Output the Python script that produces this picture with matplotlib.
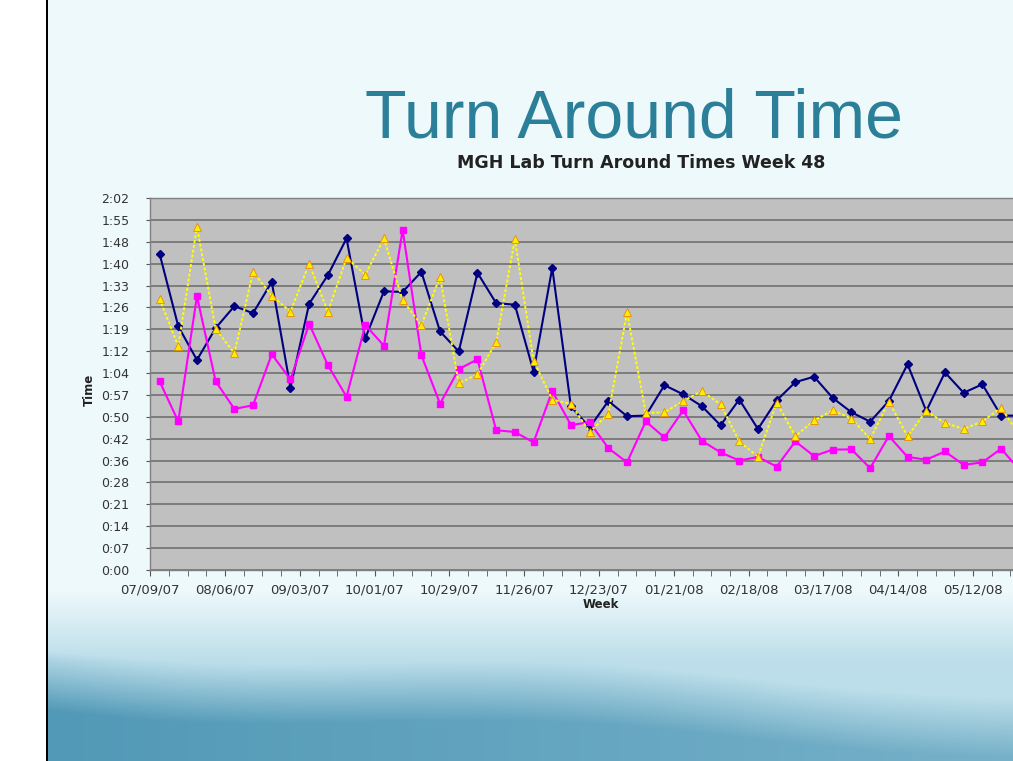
import numpy as np
import matplotlib
matplotlib.use("Agg")
import matplotlib.pyplot as plt

# weekly turnaround times in minutes
weeks = ["07/09/07", "07/16/07", "07/23/07", "07/30/07", "08/06/07", "08/13/07", "08/20/07", "08/27/07",
         "09/03/07", "09/10/07", "09/17/07", "09/24/07", "10/01/07", "10/08/07", "10/15/07", "10/22/07",
         "10/29/07", "11/05/07", "11/12/07", "11/19/07", "11/26/07", "12/03/07", "12/10/07", "12/17/07",
         "12/23/07", "12/31/07", "01/07/08", "01/14/08", "01/21/08", "01/28/08", "02/04/08", "02/11/08",
         "02/18/08", "02/25/08", "03/03/08", "03/10/08", "03/17/08", "03/24/08", "03/31/08", "04/07/08",
         "04/14/08", "04/21/08", "04/28/08", "05/05/08", "05/12/08", "05/19/08", "05/26/08"]

series_navy = [104.1, 80.2, 69.1, 79.6, 86.8, 84.5, 94.8, 60.0, 87.6, 97.0, 109.1, 76.2,
               91.7, 91.5, 98.1, 78.5, 71.9, 97.8, 87.8, 87.3, 65.3, 99.4, 53.8, 46.9,
               55.6, 50.6, 50.8, 60.8, 57.8, 53.9, 47.6, 56.1, 46.4, 55.8, 61.8, 63.6,
               56.6, 51.9, 48.8, 55.6, 67.7, 52.3, 65.0, 58.3, 61.1, 50.8, 50.8]
series_pink = [62.1, 48.9, 90.1, 62.1, 53.0, 54.2, 71.0, 62.7, 81.0, 67.4, 57.0, 80.6,
               73.8, 111.9, 70.7, 54.7, 66.1, 69.3, 46.0, 45.4, 42.0, 58.9, 47.7, 48.6,
               40.1, 35.4, 48.9, 43.6, 52.5, 42.5, 38.7, 36.0, 37.2, 34.0, 42.3, 37.5,
               39.6, 39.7, 33.5, 44.1, 37.2, 36.3, 39.0, 34.6, 35.4, 39.9, 32.9]
series_yellow = [89.2, 73.6, 113.0, 79.3, 71.3, 98.1, 90.3, 85.0, 100.8, 85.0, 102.7, 97.2,
                 109.1, 88.7, 80.6, 96.4, 61.4, 64.4, 74.9, 108.9, 68.8, 56.1, 54.6, 45.4,
                 51.4, 84.8, 51.7, 51.9, 55.6, 58.9, 54.5, 42.3, 37.3, 55.1, 44.0, 49.2,
                 52.6, 49.8, 43.1, 55.4, 44.0, 52.3, 48.4, 46.4, 48.9, 53.4, 44.2]

ytick_labels = ["0:00", "0:07", "0:14", "0:21", "0:28", "0:36", "0:42", "0:50", "0:57",
                "1:04", "1:12", "1:19", "1:26", "1:33", "1:40", "1:48", "1:55", "2:02"]
ytick_step = 7.2  # minutes (0.005 day)

W, H = 1013, 761
fig = plt.figure(figsize=(W / 100, H / 100), dpi=100)

# slide backdrop: pale field, teal swell along the bottom, white margin on the left
yy, xx = np.mgrid[0:H, 0:W].astype(float)
pale = np.array([238, 249, 251]) / 255
light = np.array([188, 222, 234]) / 255
teal = np.array([80, 152, 182]) / 255
t_light = np.clip((yy - 590) / 70, 0, 1)
edge = 645 + 45 * (xx / W) + 8 * np.sin(xx / 120)
t_teal = np.clip((yy - edge) / 60, 0, 1) * (1 - 0.35 * xx / W)
img = pale * (1 - t_light[..., None]) + light * t_light[..., None]
img = img * (1 - t_teal[..., None]) + teal * t_teal[..., None]
img[:, :46] = 1.0
img[:, 46:48] = 0.0
bg = fig.add_axes([0, 0, 1, 1], zorder=-1)
bg.imshow(img, extent=[0, W, H, 0], aspect="auto", interpolation="bilinear")
bg.axis("off")

fig.text(634 / W, 1 - 138 / H, "Turn Around Time", fontsize=49, color="#2b7f98",
         ha="center", va="baseline", family="Liberation Sans")
fig.text(641 / W, 1 - 168 / H, "MGH Lab Turn Around Times Week 48", fontsize=12.5,
         fontweight="bold", color="#222222", ha="center", va="baseline", family="DejaVu Sans")

n = len(weeks)
x = np.arange(n)
cat_px = 18.7
ax = fig.add_axes([150.2 / W, 1 - 570 / H, n * cat_px / W, (570 - 198) / H])
ax.set_facecolor("#c0c0c0")
ax.set_xlim(-0.5, n - 0.5)
ax.set_ylim(0, ytick_step * (len(ytick_labels) - 1))

ax.plot(x, series_navy, color="#000080", lw=1.5, marker="D", ms=4.5, zorder=3)
ax.plot(x, series_pink, color="#ff00ff", lw=1.5, marker="s", ms=5, zorder=4)
ax.plot(x, series_yellow, color="#ffff00", lw=1.4, ls=(0, (1.5, 1)), marker="^", ms=6,
        mfc="#ffee00", mec="#e88a00", mew=0.6, zorder=5)

yt = np.arange(len(ytick_labels)) * ytick_step
ax.set_yticks(yt)
ax.set_yticklabels(ytick_labels)
ax.yaxis.grid(True, color="#707070", lw=1.2)
ax.set_axisbelow(True)

label_pos = np.arange(0, n, 4)
ax.set_xticks(label_pos - 0.5)
ax.set_xticklabels([weeks[i] for i in label_pos])
ax.set_xticks(np.arange(n) - 0.5, minor=True)
ax.tick_params(axis="x", which="both", length=4, color="#555555", direction="out")
ax.tick_params(axis="x", labelsize=9.5, labelcolor="#333333", pad=6)
ax.tick_params(axis="y", length=3, color="#555555", labelsize=9, labelcolor="#333333", pad=12)
for lab in ax.get_xticklabels() + ax.get_yticklabels():
    lab.set_family("DejaVu Sans")

for side in ["left", "bottom", "top", "right"]:
    ax.spines[side].set_color("#808080")
    ax.spines[side].set_linewidth(1.0)

fig.text(89 / W, 1 - 390 / H, "Time", rotation=90, fontsize=8.5, fontweight="bold",
         ha="center", va="center", color="#222222")
fig.text(601 / W, 1 - 605 / H, "Week", fontsize=8.5, fontweight="bold",
         ha="center", va="center", color="#222222")

fig.savefig("out.png", dpi=100)
